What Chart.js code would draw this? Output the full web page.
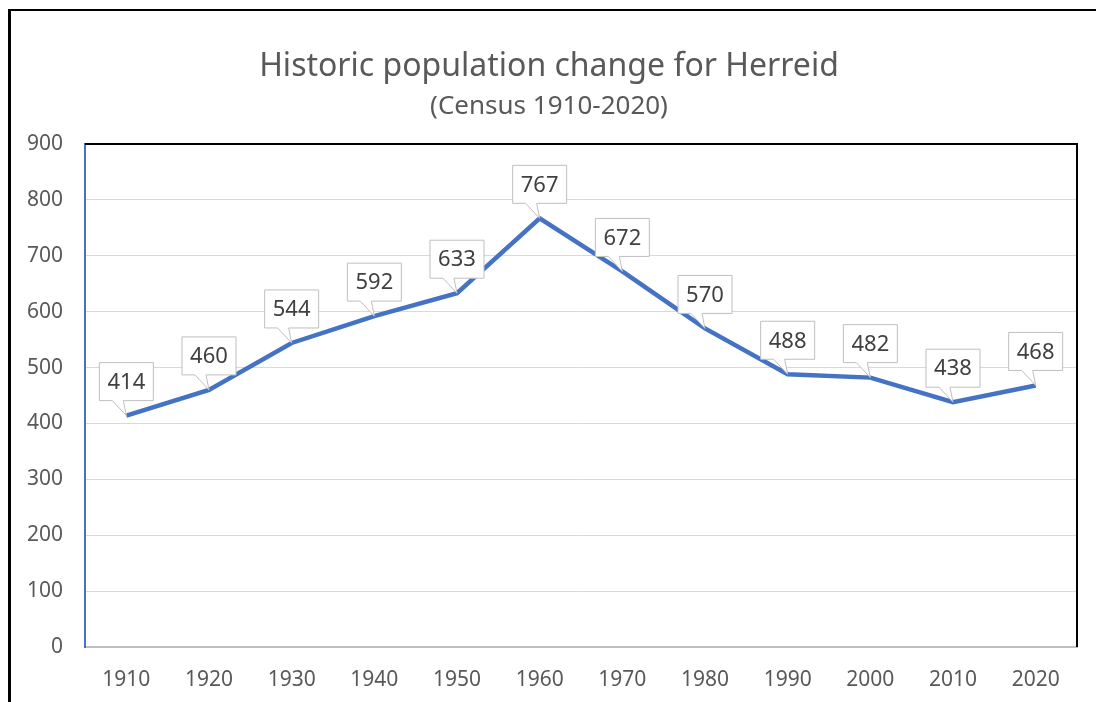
<!DOCTYPE html>
<html>
<head>
<meta charset="utf-8">
<script src="https://cdn.jsdelivr.net/npm/chart.js@4"></script>
<style>
  html, body { margin: 0; padding: 0; background: #fff; }
  #wrap { position: absolute; left: 0; top: 0; width: 1096px; height: 702px; }
</style>
</head>
<body>
<div id="wrap"><canvas id="herreidChart" width="1096" height="702"></canvas></div>
<script>
const years = ['1910', '1920', '1930', '1940', '1950', '1960', '1970', '1980', '1990', '2000', '2010', '2020'];
const population = [414, 460, 544, 592, 633, 767, 672, 570, 488, 482, 438, 468];
const yTicks = [0, 100, 200, 300, 400, 500, 600, 700, 800, 900];

const FONT = "'Noto Sans', sans-serif";
const textGrey = '#595959';

// outer frame + top/right plot border
const framePlugin = {
    id: 'frame',
    beforeDraw(chart) {
        const c = chart.ctx;
        c.save();
        c.fillStyle = '#fff';
        c.fillRect(0, 0, chart.width, chart.height);
        c.fillStyle = '#000';
        c.fillRect(8, 9, 3, chart.height);
        c.fillRect(8, 9, chart.width, 2);
        c.restore();
    },
    afterDatasetsDraw(chart) {
        const a = chart.chartArea;
        const c = chart.ctx;
        c.save();
        c.strokeStyle = '#000';
        c.lineWidth = 2;
        c.beginPath();
        c.moveTo(a.left, a.top);
        c.lineTo(a.right, a.top);
        c.lineTo(a.right, a.bottom);
        c.stroke();
        c.restore();
    }
};

// Excel style callout data labels
const calloutPlugin = {
    id: 'callouts',
    afterDatasetsDraw(chart) {
        const c = chart.ctx;
        const meta = chart.getDatasetMeta(0);
        const vals = chart.data.datasets[0].data;
        c.save();
        c.font = '22px ' + FONT;
        c.textAlign = 'center';
        c.textBaseline = 'middle';
        meta.data.forEach((pt, i) => {
            const w = 54, h = 38, gap = 15;
            const x0 = pt.x - w / 2, y1 = pt.y - gap, y0 = y1 - h;
            c.beginPath();
            c.moveTo(x0, y0);
            c.lineTo(x0 + w, y0);
            c.lineTo(x0 + w, y1);
            c.lineTo(pt.x - 3, y1);
            c.lineTo(pt.x, pt.y);
            c.lineTo(pt.x - 14, y1);
            c.lineTo(x0, y1);
            c.closePath();
            c.fillStyle = '#fff';
            c.fill();
            c.strokeStyle = '#bfbfbf';
            c.lineWidth = 1;
            c.stroke();
            c.fillStyle = '#404040';
            c.fillText(String(vals[i]), pt.x, y0 + h / 2 + 1);
        });
        c.restore();
    }
};

new Chart(document.getElementById('herreidChart').getContext('2d'), {
    type: 'line',
    data: {
        labels: years,
        datasets: [{
            label: 'Population',
            data: population,
            borderColor: '#4472C4',
            borderWidth: 4.5,
            pointRadius: 0,
            tension: 0
        }]
    },
    options: {
        responsive: false,
        animation: false,
        layout: { padding: { left: 21, right: 19, top: 0, bottom: 0 } },
        plugins: {
            legend: { display: false },
            tooltip: { enabled: false },
            title: {
                display: true,
                text: 'Historic population change for Herreid',
                color: textGrey,
                font: { family: FONT, size: 32, weight: 'normal', lineHeight: 1.2 },
                padding: { top: 48, bottom: 2 }
            },
            subtitle: {
                display: true,
                text: '(Census 1910-2020)',
                color: textGrey,
                font: { family: FONT, size: 26, weight: 'normal', lineHeight: 1.2 },
                padding: { top: 2.4, bottom: 22 }
            }
        },
        scales: {
            x: {
                offset: true,
                grid: { display: false, drawTicks: false },
                border: { display: true, color: '#bfbfbf', width: 2 },
                ticks: { color: textGrey, font: { family: FONT, size: 21 }, padding: 20, maxRotation: 0 },
                afterFit(scale) { scale.height = 55; }
            },
            y: {
                min: 0,
                max: 900,
                afterBuildTicks(scale) { scale.ticks = yTicks.map(v => ({ value: v })); },
                grid: { color: '#d9d9d9', lineWidth: 1, drawTicks: false },
                border: { display: true, color: '#4472C4', width: 2 },
                ticks: { color: textGrey, font: { family: FONT, size: 21 }, padding: 22 },
                afterFit(scale) { scale.width = 64; }
            }
        }
    },
    plugins: [framePlugin, calloutPlugin]
});
</script>
</body>
</html>
